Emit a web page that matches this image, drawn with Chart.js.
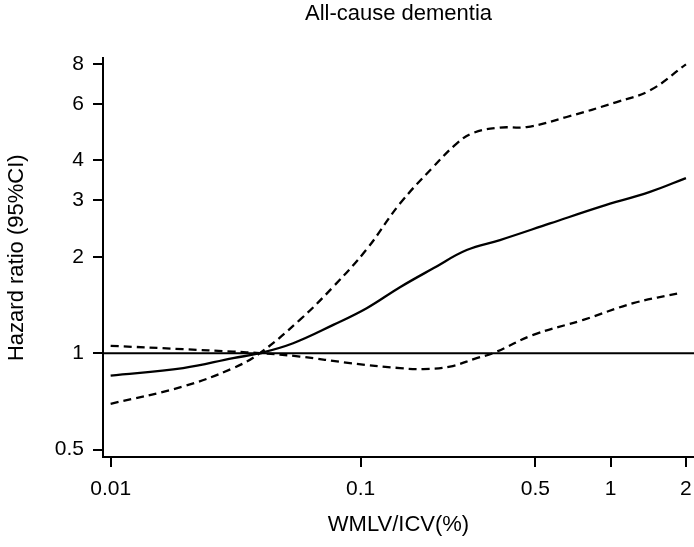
<!DOCTYPE html>
<html>
<head>
<meta charset="utf-8">
<title>All-cause dementia</title>
<script src="https://cdn.jsdelivr.net/npm/chart.js@4/dist/chart.umd.min.js"></script>
<style>
  html, body { margin: 0; padding: 0; background: #fff; }
  #wrap { width: 694px; height: 547px; position: relative; }
</style>
</head>
<body>
<div id="wrap"><canvas id="chart"></canvas></div>
<script>
// Dane (WMLV/ICV w %, HR)
const xTicks = [0.01, 0.1, 0.5, 1, 2];
const yTicks = [0.5, 1, 2, 3, 4, 6, 8];

const hrX = [0.01, 0.0195, 0.0309, 0.0395, 0.0537, 0.0777, 0.1057, 0.1436, 0.1952, 0.2655, 0.3607, 0.572, 0.906, 1.436, 2.0];
const hrY = [0.851, 0.898, 0.965, 1.0, 1.074, 1.225, 1.381, 1.606, 1.84, 2.098, 2.254, 2.54, 2.862, 3.187, 3.52];

const upperX = [0.01, 0.0195, 0.0309, 0.0395, 0.0571, 0.0777, 0.1057, 0.1436, 0.1952, 0.242, 0.282, 0.3607, 0.461, 0.667, 1.057, 1.436, 2.0];
const upperY = [0.695, 0.787, 0.898, 1.0, 1.27, 1.612, 2.11, 2.93, 3.814, 4.51, 4.87, 5.06, 5.08, 5.46, 6.08, 6.61, 7.97];

const lowerX = [0.01, 0.0195, 0.0309, 0.0395, 0.0571, 0.0906, 0.1436, 0.178, 0.2277, 0.291, 0.339, 0.49, 0.777, 1.231, 1.923];
const lowerY = [1.054, 1.029, 1.011, 1.0, 0.976, 0.931, 0.898, 0.892, 0.908, 0.965, 1.0, 1.14, 1.27, 1.432, 1.545];

// Zakres osi
const xMin = 0.00932, xMax = 2.154;
const yMin = 0.474, yMax = 8.32;

const refX = [xMin, xMax];
const refY = [1, 1];

function toPoints(xs, ys) {
    return xs.map((x, i) => ({ x: x, y: ys[i] }));
}

function fmt(v) {
    return String(v);
}

Chart.defaults.font.family = "'Liberation Sans', Arial, Helvetica, sans-serif";
Chart.defaults.font.size = 21;
Chart.defaults.color = '#000';

const lineBase = {
    borderColor: '#000',
    borderWidth: 2.3,
    pointRadius: 0,
    fill: false,
    tension: 0.4
};

new Chart(document.getElementById('chart').getContext('2d'), {
    type: 'line',
    data: {
        datasets: [
            { ...lineBase, label: 'ref', data: toPoints(refX, refY), tension: 0, borderWidth: 2 },
            { ...lineBase, label: 'HR', data: toPoints(hrX, hrY) },
            { ...lineBase, label: 'upper', data: toPoints(upperX, upperY), borderDash: [8, 5] },
            { ...lineBase, label: 'lower', data: toPoints(lowerX, lowerY), borderDash: [8, 5] }
        ]
    },
    options: {
        responsive: true,
        maintainAspectRatio: false,
        animation: false,
        layout: { padding: 0 },
        plugins: {
            legend: { display: false },
            tooltip: { enabled: false },
            title: {
                display: true,
                text: 'All-cause dementia',
                fullSize: false,
                font: { size: 22, weight: 'normal' },
                color: '#000',
                padding: { top: 1, bottom: 31 }
            }
        },
        scales: {
            x: {
                type: 'logarithmic',
                min: xMin,
                max: xMax,
                afterBuildTicks: s => { s.ticks = xTicks.map(v => ({ value: v })); },
                afterFit: s => { s.height = 90; s.paddingRight = 0; s.paddingLeft = 0; },
                ticks: {
                    autoSkip: false,
                    maxRotation: 0,
                    padding: 10,
                    callback: v => fmt(v)
                },
                grid: {
                    display: true,
                    drawOnChartArea: false,
                    drawTicks: true,
                    tickLength: 10,
                    color: '#000',
                    lineWidth: 2
                },
                border: { display: true, color: '#000', width: 2 },
                title: {
                    display: true,
                    text: 'WMLV/ICV(%)',
                    font: { size: 22 },
                    color: '#000',
                    padding: { top: 0, bottom: 9 }
                }
            },
            y: {
                type: 'logarithmic',
                min: yMin,
                max: yMax,
                afterBuildTicks: s => { s.ticks = yTicks.map(v => ({ value: v })); },
                afterFit: s => { s.width = 103; },
                ticks: {
                    autoSkip: false,
                    padding: 9,
                    callback: v => fmt(v)
                },
                grid: {
                    display: true,
                    drawOnChartArea: false,
                    drawTicks: true,
                    tickLength: 10,
                    color: '#000',
                    lineWidth: 2
                },
                border: { display: true, color: '#000', width: 2 },
                title: {
                    display: true,
                    text: 'Hazard ratio (95%CI)',
                    font: { size: 22 },
                    color: '#000',
                    padding: { top: 4, bottom: 0 }
                }
            }
        }
    }
});
</script>
</body>
</html>
